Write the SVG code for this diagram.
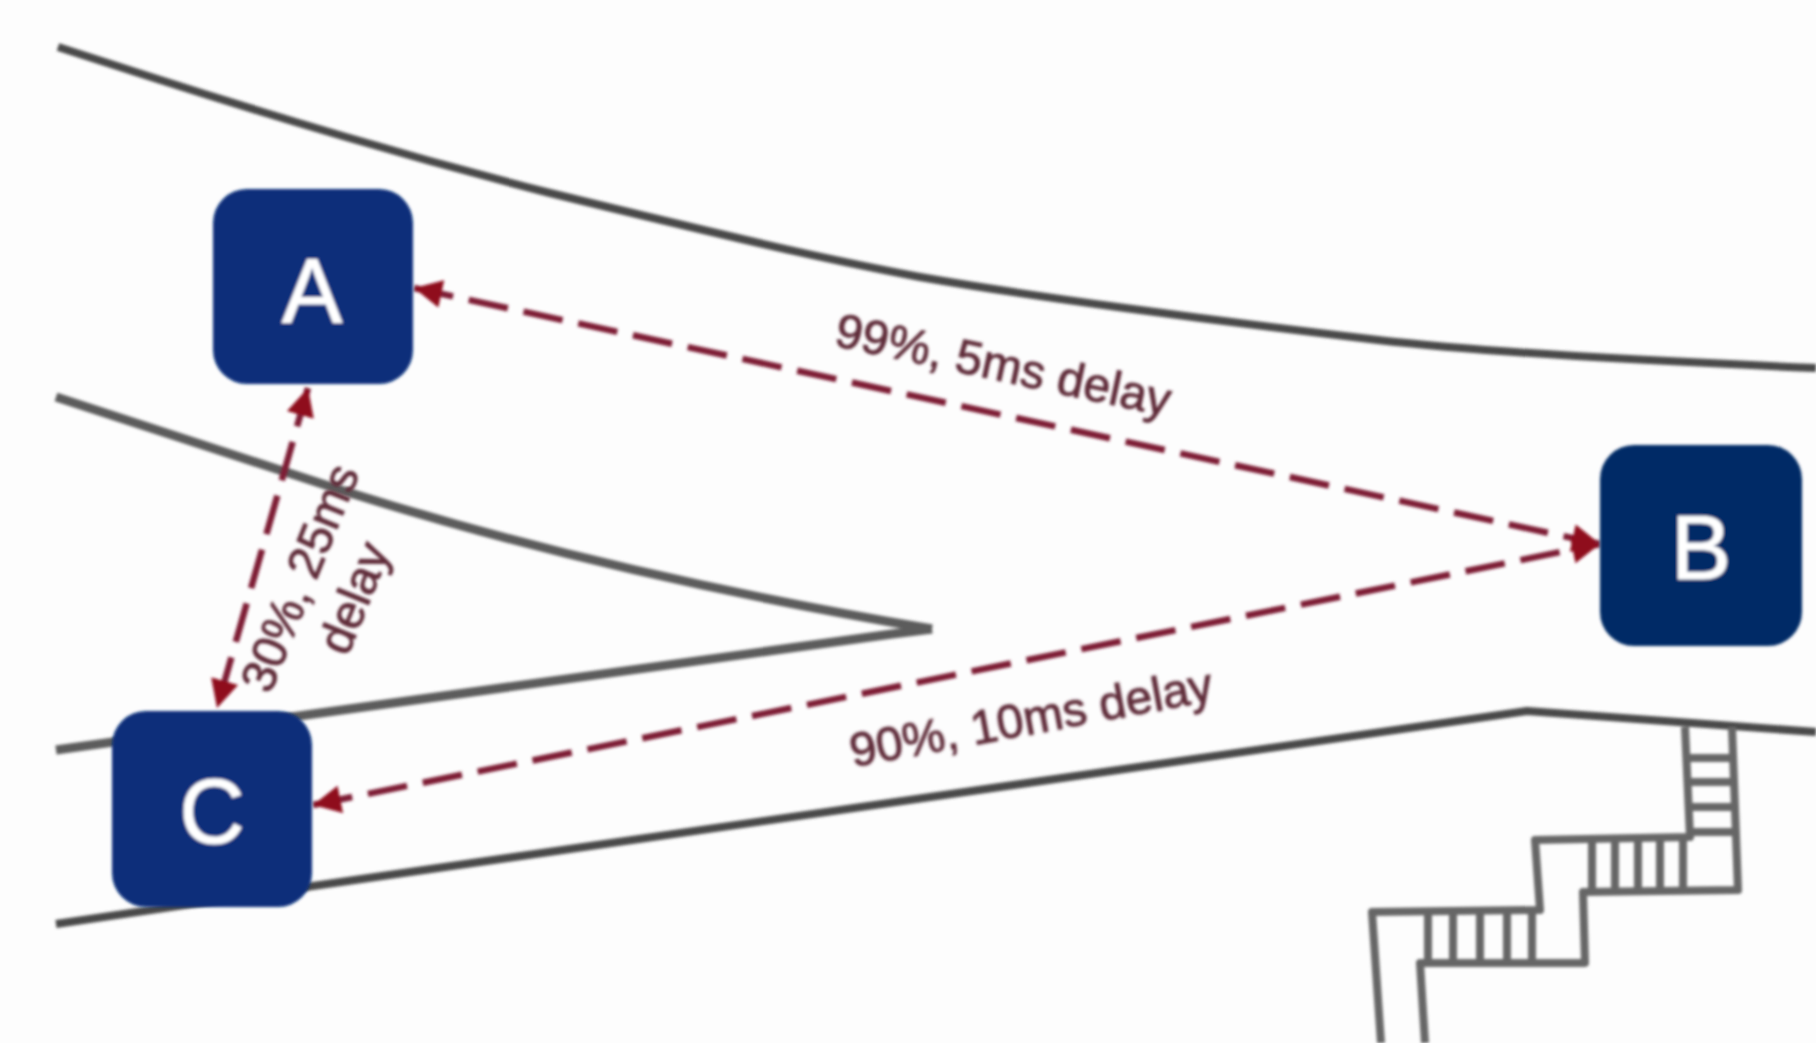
<svg xmlns="http://www.w3.org/2000/svg" width="1816" height="1043" viewBox="0 0 1816 1043">
<defs>
<style>
.road{fill:none;stroke:#484848;stroke-width:8;stroke-linejoin:round}
.mid{fill:none;stroke:#5c5c5c;stroke-width:9;stroke-linejoin:round}
.stair{fill:none;stroke:#666;stroke-width:8;stroke-linejoin:round}
.link{fill:none;stroke:#7e1f35;stroke-width:6.5;stroke-dasharray:40 16}
.node{fill:#072d7a}
.nl{fill:#fff;stroke:#fff;stroke-width:1;font:90px "Liberation Sans",Arial,sans-serif;text-anchor:middle}
.lab{fill:#5e2a38;stroke:#5e2a38;stroke-width:.9;font:48px "Liberation Sans",Arial,sans-serif;text-anchor:middle}
</style>
<marker id="ah" markerUnits="userSpaceOnUse" markerWidth="28" markerHeight="28" refX="27" refY="13.5" orient="auto-start-reverse" viewBox="0 0 27 27"><path d="M0 0L27 13.5L0 27Z" fill="#8f0b1f"/></marker>
<filter id="soft" x="-5%" y="-5%" width="110%" height="110%"><feGaussianBlur stdDeviation="1.5"/></filter>
</defs>
<rect width="1816" height="1043" fill="#fdfdfd"/>
<g id="plan" filter="url(#soft)">
<path class="road" d="M58 47L151 77Q244 107 346 137Q448 167 550 193Q652 218 746 240Q840 262 920 277Q1000 291 1125 308Q1250 325 1378 340Q1506 355 1816 368"/>
<path class="mid" d="M56 397L347 492C500 540 700 590 932 629"/>
<path class="mid" d="M56 750L313 714L892 634L932 629"/>
<path class="road" d="M56 924L313 886L1527 711L1816 732"/>
<path class="stair" d="M1685 727L1690 837L1535 840L1540 910L1372 912L1381 1043"/>
<path class="stair" d="M1732 727L1738 890L1583 892L1585 963L1420 963L1425 1043"/>
<path class="stair" d="M1686 758H1733M1687 782H1734M1688 807H1735M1689 832H1736M1592 840V890M1615 840V890M1638 839V890M1660 839V890M1683 838V890M1428 912V962M1453 912V962M1480 912V962M1507 911V962M1532 911V962"/>
</g>
<g id="connectors" filter="url(#soft)">
<path class="link" marker-start="url(#ah)" marker-end="url(#ah)" d="M414 288L1600 544"/>
<path class="link" marker-start="url(#ah)" marker-end="url(#ah)" d="M313 805L1600 544"/>
<path class="link" marker-start="url(#ah)" marker-end="url(#ah)" d="M308 388L217 708"/>
</g>
<g id="labels" filter="url(#soft)">
<text class="lab" transform="translate(1000 381) rotate(12)">99%, 5ms delay</text>
<text class="lab" transform="translate(1034 734) rotate(-10.5)">90%, 10ms delay</text>
<text class="lab" transform="translate(315 584) rotate(-68)">30%, 25ms</text>
<text class="lab" transform="translate(369 604) rotate(-68)">delay</text>
</g>
<g id="node-a" filter="url(#soft)"><rect class="node" x="213" y="189" width="200" height="195" rx="34"/><text class="nl" x="312" y="322">A</text></g>
<g id="node-b" filter="url(#soft)"><rect class="node" style="fill:#062a66" x="1600" y="445" width="202" height="201" rx="34"/><text class="nl" x="1701" y="579">B</text></g>
<g id="node-c" filter="url(#soft)"><rect class="node" x="112" y="711" width="200" height="196" rx="34"/><text class="nl" x="212" y="843">C</text></g>
</svg>
